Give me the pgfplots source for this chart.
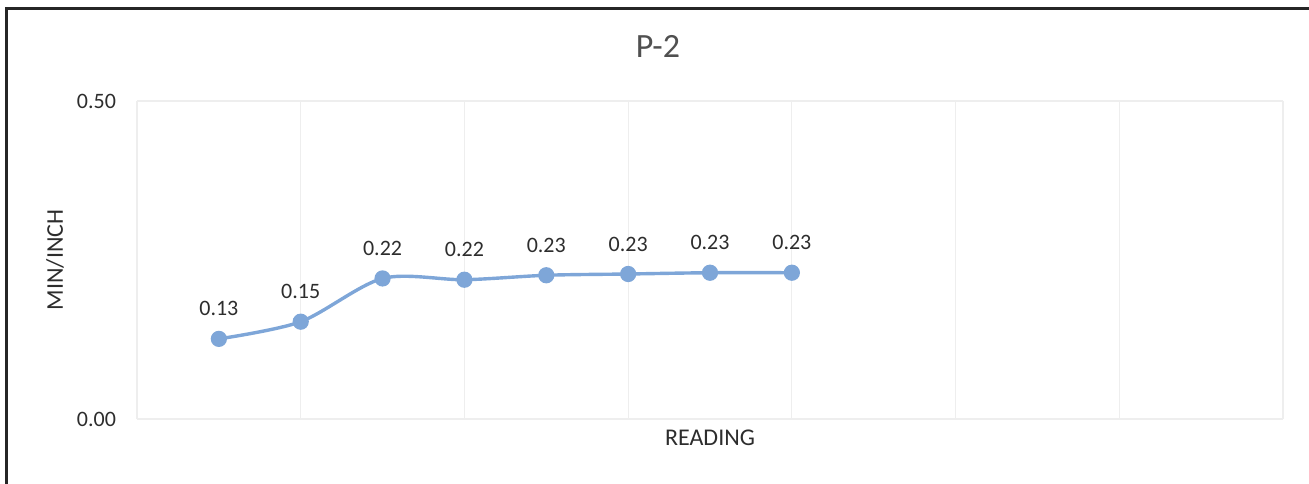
\documentclass[border=0pt]{standalone}
\usepackage{pgfplots}
\pgfplotsset{compat=1.18}
\usepackage{fontspec}
\setmainfont{Carlito}
\definecolor{lineblue}{RGB}{126,166,216}
\definecolor{titlegrey}{RGB}{80,80,80}
\definecolor{labelgrey}{RGB}{45,45,45}
\definecolor{gridgrey}{RGB}{238,238,238}
\begin{document}
\begin{tikzpicture}
\useasboundingbox (0,0) rectangle (654.5pt,241.5pt);
\draw[line width=1.1pt, black!85] (3.25pt,-2pt) -- (3.25pt,237.25pt) -- (660pt,237.25pt);
\begin{axis}[
  at={(68.5pt,32pt)}, anchor=south west,
  scale only axis, width=573pt, height=159pt,
  xmin=0, xmax=14, ymin=0, ymax=0.5,
  xtick={0,2,...,14}, xticklabels={},
  ytick={0,0.5},
  major tick length=0pt,
  axis line style={draw=none},
  xmajorgrids, ymajorgrids,
  grid style={gridgrey, line width=0.6pt},
  /pgf/number format/assume math mode=true,
  yticklabel={\pgfmathprintnumber[fixed,precision=2,zerofill]{\tick}},
  yticklabel style={font=\fontsize{11}{13}\selectfont, text=labelgrey, anchor=east},
  yticklabel shift=7pt,
  title={P-2},
  title style={at={(axis description cs:0.4546,1.135)}, anchor=center, font=\fontsize{17}{20}\selectfont, text=titlegrey},
  xlabel={READING},
  xlabel style={at={(axis description cs:0.5,-0.0597)}, anchor=center, font=\fontsize{12}{14}\selectfont, text=labelgrey},
  ylabel={MIN/INCH},
  ylabel style={at={(axis description cs:-0.0716,0.5)}, anchor=center, rotate=0, font=\fontsize{12}{14}\selectfont, text=labelgrey},
  nodes near coords,
  point meta=y,
  nodes near coords style={/pgf/number format/.cd, fixed, precision=2, zerofill, /tikz/.cd, anchor=south, inner sep=0pt, yshift=10.5pt, font=\fontsize{11}{13}\selectfont, text=labelgrey},
  clip=false,
]
\addplot[color=lineblue, line width=1.7pt, smooth, tension=0.5, mark=*, mark size=3.2pt, mark options={fill=lineblue, draw=lineblue}]
  coordinates {(1,0.126) (2,0.153) (3,0.221) (4,0.219) (5,0.226) (6,0.228) (7,0.230) (8,0.230)};
\end{axis}
\end{tikzpicture}
\end{document}
